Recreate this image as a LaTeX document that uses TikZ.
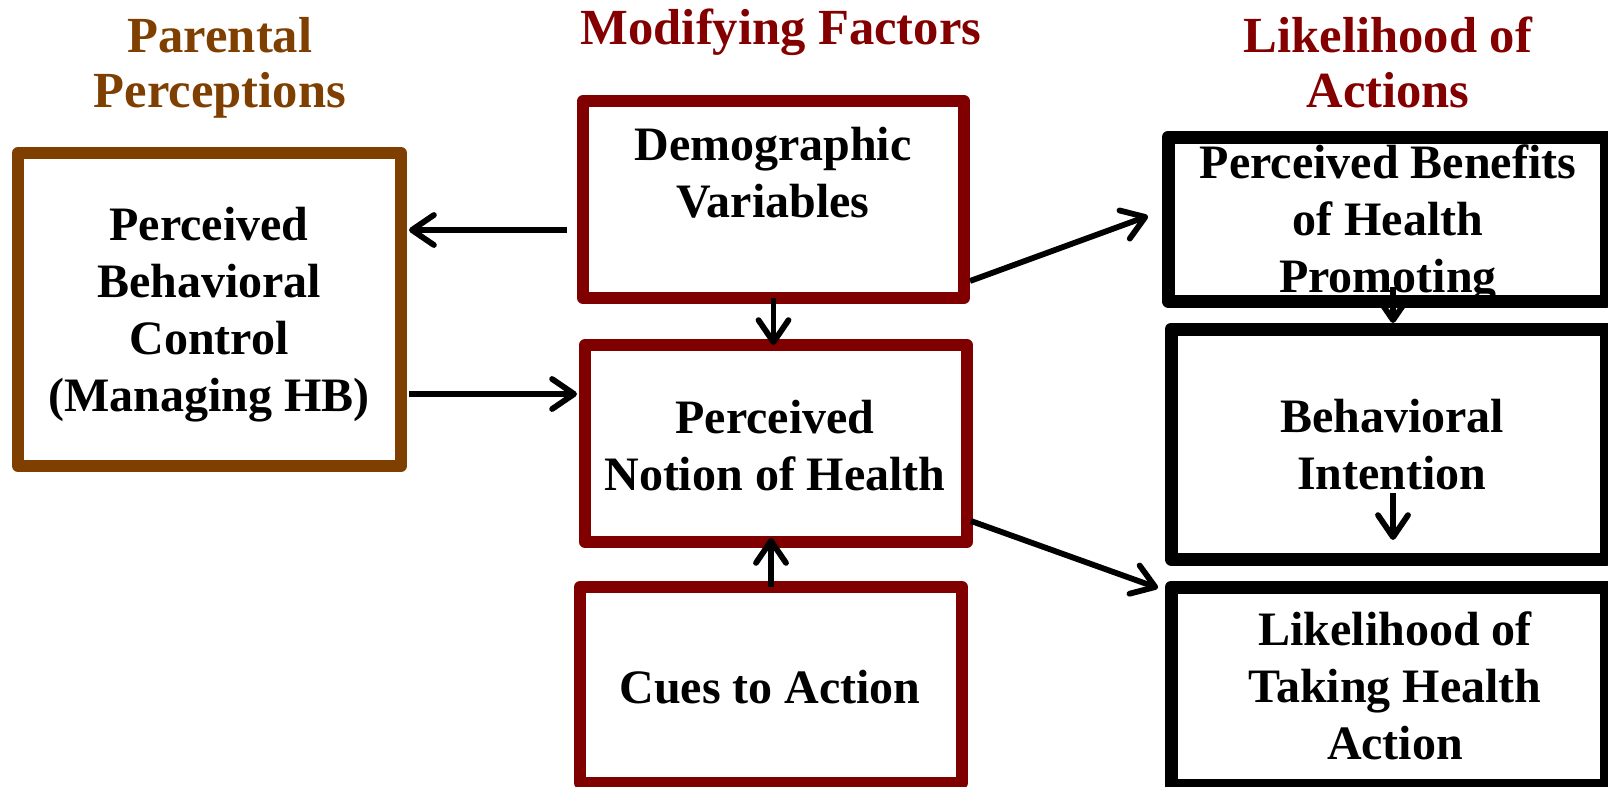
\documentclass[tikz,border=0pt]{standalone}
\usepackage{fontspec}
\setmainfont{Liberation Serif}
\usetikzlibrary{arrows.meta,calc}
\definecolor{brownc}{RGB}{127,63,0}
\definecolor{maroonc}{RGB}{128,0,0}
\definecolor{titlered}{RGB}{132,0,0}
\newcommand{\mylines}[1]{\begin{tabular}[t]{@{}c@{}}#1\end{tabular}}
\begin{document}
\begin{tikzpicture}[x=0.5pt,y=-0.5pt,
  box/.style={draw=#1, fill=white, line width=6pt, line join=round, inner sep=0pt, outer sep=0pt, rectangle},
  bodytext/.style={anchor=base, inner sep=0pt, font=\bfseries\fontsize{24}{28.6}\selectfont},
  titletext/.style={anchor=base, inner sep=0pt, font=\bfseries\fontsize{25.3}{28}\selectfont, text=#1},
  arr/.style={line width=2.9pt, -{Straight Barb[length=11pt,width=15pt,round]}}]
\clip (0,0) rectangle (1608,787);
\fill[white] (0,0) rectangle (1608,787);
% boxes
\node[box=brownc, minimum width=191.5pt, minimum height=156.5pt] (pbc) at (209.5,309.5) {};
\node[box=maroonc, minimum width=190.5pt, minimum height=98.5pt] (demo) at (773.5,199.5) {};
\node[box=maroonc, minimum width=191pt, minimum height=98.5pt] (notion) at (776,443.5) {};
\node[box=maroonc, minimum width=191pt, minimum height=98pt] (cues) at (771,685) {};
\node[box=black, line width=6.5pt, minimum width=219pt, minimum height=82pt] (pb) at (1387,219) {};
\node[box=black, line width=6.5pt, minimum width=217.5pt, minimum height=115pt] (bi) at (1388.5,444) {};
\node[box=black, line width=6.5pt, minimum width=217.5pt, minimum height=99pt] (ltha) at (1388.5,686) {};
% titles
\node[titletext=brownc] (t1) at (220,52) {\mylines{Parental\\Perceptions}};
\node[titletext=titlered] (t2) at (781,45) {Modifying Factors};
\node[titletext=titlered] (t3) at (1388,52) {\mylines{Likelihood of\\Actions}};
% box texts
\node[bodytext] (pbcT) at (209,240) {\mylines{Perceived\\Behavioral\\Control\\(Managing HB)}};
\node[bodytext] (demoT) at (773,160) {\mylines{Demographic\\Variables}};
\node[bodytext] (notionT) at (775,433) {\mylines{Perceived\\Notion of Health}};
\node[bodytext] (cuesT) at (770,703) {Cues to Action};
\node[bodytext] (pbT) at (1388,178) {\mylines{Perceived Benefits\\of Health\\Promoting}};
\node[bodytext] (biT) at (1392,432) {\mylines{Behavioral\\Intention}};
\node[bodytext] (lthaT) at (1395,645) {\mylines{Likelihood of\\Taking Health\\Action}};
% connectors
\draw[arr, shorten <=8pt, shorten >=4pt] (demo.west |- 0,230) -- (pbc.east |- 0,230);
\draw[arr, shorten <=4pt, shorten >=4pt] (pbc.east |- 0,394) -- (notion.west |- 0,394);
\draw[arr] (demo.south) -- (demo.south |- notion.north);
\draw[arr, shorten >=-2pt] (cues.north) -- (cues.north |- notion.south);
\draw[arr] ($(demo.south east)+(6,-17)$) -- ($(pb.west)+(-20,-3)$);
\draw[arr] ($(notion.south east)+(4,-21)$) -- ($(ltha.north west)+(-13,1)$);
\draw[arr] ($(pb.south)+(6,-14)$) -- ($(bi.north)+(4.5,-6)$);
\draw[arr] ($(bi.south)+(4.5,-66)$) -- ($(bi.south)+(4.5,-19)$);
\end{tikzpicture}
\end{document}
